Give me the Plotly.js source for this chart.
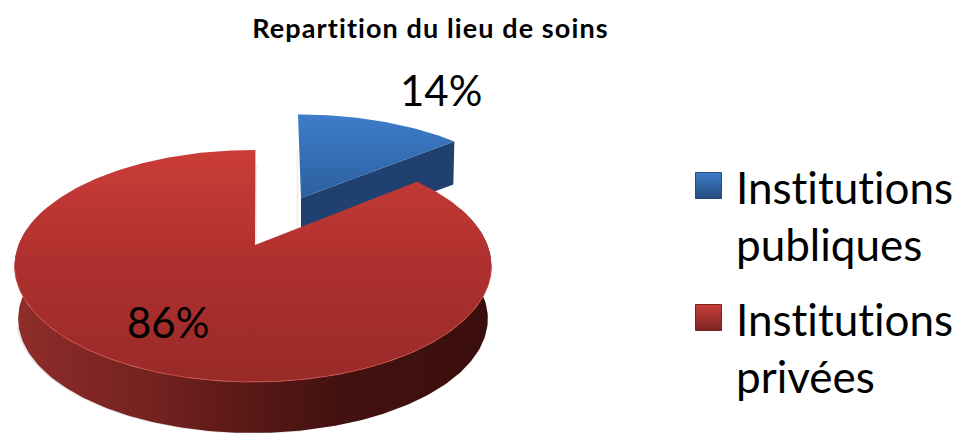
<!DOCTYPE html>
<html><head><meta charset="utf-8">
<script src="https://cdn.plot.ly/plotly-3.0.1.min.js"></script>
<style>html,body{margin:0;padding:0;background:#fff}#c{width:964px;height:433px}
svg text{font-variant-ligatures:none;font-feature-settings:"liga" 0}
.gtitle{letter-spacing:1.1px}</style>
</head><body><div id="c"></div>
<script>
const chartTitle = 'Repartition du lieu de soins';
const categories = ['Institutions publiques', 'Institutions privées'];
const values = [14, 86];

const total = values[0] + values[1];
const sweep = values[0] / total * 2 * Math.PI;
const K = 0.181, RX = 234.5, RY = 112.2, STEP = Math.PI / 180;
function rim(a, o) {
  const u = Math.sin(a), v = Math.cos(a), s = 1 / (1 + K * v);
  return [o.cx + o.sx * RX * u * s, o.cy - o.sy * RY * v * s];
}
function arc(a0, a1, o) {
  const n = Math.max(2, Math.ceil(Math.abs(a1 - a0) / STEP)), pts = [];
  for (let i = 0; i <= n; i++) pts.push(rim(a0 + (a1 - a0) * i / n, o));
  return pts;
}
const redTop = {cx: 253, cy: 245, sx: 1, sy: 1};
const redBot = {cx: 253, cy: 298, sx: 0.985, sy: 0.985};
const blueTop = {cx: 298, cy: 198, sx: 0.965, sy: 0.88};
const rot = 0.7 * Math.PI / 180;
const full = 2 * Math.PI;

function poly(pts, extra) {
  return Object.assign({
    x: pts.map(p => p[0]), y: pts.map(p => p[1]), type: 'scatter', mode: 'lines',
    fill: 'toself', line: {width: 0}, hoverinfo: 'skip', showlegend: false
  }, extra);
}
function line(pts, color, width) {
  return {x: pts.map(p => p[0]), y: pts.map(p => p[1]), type: 'scatter', mode: 'lines',
    line: {color: color, width: width}, hoverinfo: 'skip', showlegend: false};
}
function grad(type, stops, start, stop) {
  return {fillgradient: {type: type, colorscale: stops, start: start, stop: stop}};
}

// blue slice
const blueArc = arc(0, sweep, blueTop);
const blueEnd = blueArc[blueArc.length - 1];
const blueApex = [301, 198];
const blueDepth = 43;
const blueWall = [blueApex, blueEnd, [blueEnd[0] - 1, blueEnd[1] + blueDepth], [blueApex[0], blueApex[1] + blueDepth]];
const blueFace = [blueApex].concat(blueArc);

// red slice
const a0 = sweep + rot, a1 = full + rot;
const redApex = [255, 245];
const redFace = [redApex].concat(arc(a0, a1, redTop));
const wallFrom = Math.max(a0, 70 * STEP), wallTo = 290 * STEP;
const redWall = arc(wallFrom, wallTo, redTop).concat(arc(wallTo, wallFrom, redBot));
const shadow = arc(170 * STEP, 255 * STEP, {cx: 253, cy: 297, sx: 0.99, sy: 0.99});
const edgeLight = arc(100 * STEP, 262 * STEP, redTop);

const traces = [
  line([[297.5, 150], [297.5, 228]], 'rgba(0,0,0,0.06)', 2),
  line(shadow, 'rgba(0,0,0,0.10)', 2.5),
  poly(blueWall, {fillcolor: '#20416f', line: {width: 0}}),
  poly(blueFace, Object.assign({fillcolor: '#3a78c4'},
    grad('vertical', [[0, '#3d7dca'], [1, '#2a5a96']], 114, 215))),
  poly(redWall, Object.assign({fillcolor: '#6a1e1c'},
    grad('horizontal', [[0, '#8f2d2a'], [0.33, '#6f201e'], [0.5, '#581816'], [0.68, '#431210'], [1, '#3a0e0c']], 17, 488))),
  line([[256, 165], [256, 244]], 'rgba(0,0,0,0.07)', 2),
  poly(redFace, Object.assign({fillcolor: '#b03230'},
    grad('vertical', [[0, '#ca3d39'], [0.5, '#ae302e'], [1, '#982a28']], 150, 382))),
  line(edgeLight, 'rgba(214,84,78,0.75)', 1),
  {x: [708.5], y: [185.5], type: 'scatter', mode: 'markers', hoverinfo: 'skip', showlegend: false,
   marker: {symbol: 'square', size: 26, color: '#3d7dca', gradient: {type: 'vertical', color: '#234a7e'}, line: {color: '#24497c', width: 1}}},
  {x: [708.5], y: [317.5], type: 'scatter', mode: 'markers', hoverinfo: 'skip', showlegend: false,
   marker: {symbol: 'square', size: 26, color: '#cb3f3b', gradient: {type: 'vertical', color: '#7c2422'}, line: {color: '#7a2321', width: 1}}}
];

const FONT = 'Lato, "Open Sans", sans-serif';
function note(text, x, y, size, anchor) {
  return {text: text, x: x, y: y, xref: 'x', yref: 'y', showarrow: false, xanchor: anchor, yanchor: 'middle',
    align: 'left', font: {family: FONT, size: size, color: '#000'}};
}
const layout = {
  width: 964, height: 433, margin: {l: 0, r: 0, t: 0, b: 0},
  paper_bgcolor: '#fff', plot_bgcolor: '#fff', showlegend: false,
  title: {text: '<b>' + chartTitle + '</b>', x: 430.5 / 964, xanchor: 'center', y: 1 - 29 / 433, yanchor: 'middle',
    font: {family: FONT, size: 27, color: '#000'}},
  xaxis: {range: [0, 964], visible: false, fixedrange: true},
  yaxis: {range: [433, 0], visible: false, fixedrange: true},
  annotations: [
    note(values[0] + '%', 441, 90, 42, 'center'),
    note(values[1] + '%', 168, 322, 42, 'center'),
    note(categories[0].replace(' ', '<br>'), 734, 215, 44, 'left'),
    note(categories[1].replace(' ', '<br>'), 734, 347, 44, 'left')
  ]
};
Plotly.newPlot('c', traces, layout, {displayModeBar: false, staticPlot: true});
</script></body></html>
